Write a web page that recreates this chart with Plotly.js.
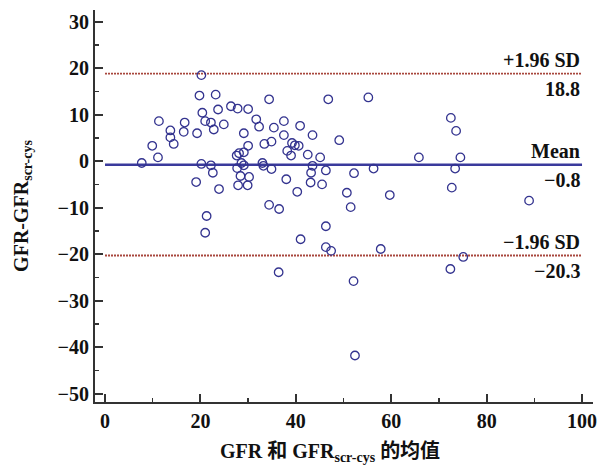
<!DOCTYPE html>
<html>
<head>
<meta charset="utf-8">
<script src="https://cdn.plot.ly/plotly-3.0.1.min.js"></script>
<style>html,body{margin:0;padding:0;background:#fff;}#chart{width:597px;height:469px;}</style>
</head>
<body>
<div id="chart"></div>
<script>
// Mean of the two GFR estimates (x) and their difference (y)
var meanGFR = [7.7, 9.9, 11.1, 11.3, 13.7, 13.7, 14.4, 16.7, 16.5, 19.3,
  19.8, 20.2, 20.4, 21.0, 22.2, 22.8, 23.2, 23.7, 24.9, 26.4,
  27.8, 30.0, 31.7, 32.3, 29.1, 30.0, 29.1, 28.1, 27.6, 33.4,
  34.9, 34.4, 35.4, 37.5, 40.9, 37.5, 43.5, 39.2, 39.8, 40.6,
  38.2, 39.0, 42.5, 45.1, 49.1, 46.8, 55.2, 20.2, 22.2, 22.6,
  28.6, 29.1, 27.7, 28.4, 30.2, 27.9, 29.9, 33.0, 33.2, 34.9,
  43.5, 43.2, 46.3, 52.2, 56.3, 19.1, 23.9, 21.3, 21.0, 38.0,
  43.1, 45.5, 40.3, 50.7, 59.7, 34.4, 36.5, 51.5, 46.3, 41.0,
  46.3, 47.4, 57.8, 36.4, 52.1, 52.4, 72.5, 73.6, 65.8, 74.5,
  73.4, 72.7, 88.9, 75.1, 72.4];
var diffGFR = [-0.4, 3.3, 0.8, 8.6, 6.6, 5.1, 3.7, 8.3, 6.3, 6.0,
  14.1, 18.5, 10.4, 8.6, 8.3, 6.8, 14.3, 11.1, 7.9, 11.8,
  11.3, 11.2, 9.0, 7.4, 6.0, 3.3, 1.9, 1.7, 1.2, 3.7,
  4.2, 13.3, 7.2, 8.6, 7.6, 5.6, 5.6, 3.9, 3.4, 3.3,
  2.2, 1.2, 1.4, 0.8, 4.5, 13.3, 13.7, -0.6, -0.9, -2.5,
  -0.4, -0.9, -1.5, -3.2, -3.4, -5.2, -5.2, -0.4, -1.0, -1.7,
  -1.0, -2.5, -2.0, -2.6, -1.6, -4.5, -6.0, -11.8, -15.4, -3.9,
  -4.6, -5.0, -6.6, -6.8, -7.3, -9.4, -10.3, -9.9, -14.0, -16.8,
  -18.5, -19.3, -18.9, -23.9, -25.8, -41.8, 9.3, 6.5, 0.8, 0.8,
  -1.6, -5.7, -8.5, -20.6, -23.2];

// Bland-Altman statistics
var upperLoA = 18.8;
var meanDiff = -0.8;
var lowerLoA = -20.3;
var lineSpan = [0, 100];
var upperLabel = "+1.96 SD";
var meanLabel = "Mean";
var lowerLabel = "\u22121.96 SD";
var xTitle = "GFR 和 GFR<sub>scr-cys</sub> 的均值";
var yTitle = "GFR-GFR<sub>scr-cys</sub>";

var xTicks = [0, 20, 40, 60, 80, 100];
var yTicks = [30, 20, 10, 0, -10, -20, -30, -40, -50];

function fmt(v) { return (v < 0 ? "\u2212" : "") + Math.abs(v).toFixed(1); }

var FONT = "'Liberation Serif', 'Noto Sans CJK SC', serif";
var axisColor = "#333333";
var markColor = "#33338f";
var redColor = "#a8473d";

var traces = [
  {x: lineSpan, y: [upperLoA, upperLoA], mode: "lines", hoverinfo: "skip",
   line: {color: redColor, width: 1.8, dash: "2px,1px"}},
  {x: lineSpan, y: [lowerLoA, lowerLoA], mode: "lines", hoverinfo: "skip",
   line: {color: redColor, width: 1.8, dash: "2px,1px"}},
  {x: lineSpan, y: [meanDiff, meanDiff], mode: "lines", hoverinfo: "skip",
   line: {color: "#3a3a9c", width: 2.5}},
  {x: meanGFR, y: diffGFR, mode: "markers", type: "scatter",
   marker: {symbol: "circle-open", size: 8.5, color: markColor, line: {width: 1.3, color: markColor}}}
];

var annFont = {family: FONT, size: 20, color: "#111", weight: "bold"};
function ann(text, y, above) {
  return {x: lineSpan[1], y: y, xref: "x", yref: "y", text: text, showarrow: false,
    xanchor: "right", yanchor: above ? "bottom" : "top", font: annFont,
    yshift: above ? 1 : -2};
}

var layout = {
  width: 597, height: 469,
  margin: {l: 95, r: 4, t: 10, b: 67},
  paper_bgcolor: "#fff", plot_bgcolor: "#fff",
  showlegend: false,
  font: {family: FONT, color: "#111"},
  xaxis: {
    range: [-2.1, 102.3], tickvals: xTicks, ticktext: xTicks.map(String),
    ticks: "inside", ticklen: 8, tickwidth: 2, tickcolor: axisColor,
    ticklabeloverflow: "allow",
    showline: true, linewidth: 2, linecolor: axisColor, showgrid: false, zeroline: false,
    minor: {dtick: 10, tick0: 0, ticks: "inside", ticklen: 4, tickwidth: 1.5, tickcolor: axisColor, showgrid: false},
    tickfont: {family: FONT, size: 20, color: "#111", weight: "bold"}
  },
  yaxis: {
    range: [-51.8, 32.5], tickvals: yTicks,
    ticks: "inside", ticklen: 8, tickwidth: 2, tickcolor: axisColor,
    ticklabeloverflow: "allow",
    showline: true, linewidth: 2, linecolor: axisColor, showgrid: false, zeroline: false,
    minor: {dtick: 5, tick0: 0, ticks: "inside", ticklen: 4, tickwidth: 1.5, tickcolor: axisColor, showgrid: false},
    tickfont: {family: FONT, size: 20, color: "#111", weight: "bold"},
    title: {text: yTitle, font: {family: FONT, size: 20, color: "#111", weight: "bold"}, standoff: 24}
  },
  annotations: [
    ann(upperLabel, upperLoA, true), ann(fmt(upperLoA), upperLoA, false),
    ann(meanLabel, meanDiff, true), ann(fmt(meanDiff), meanDiff, false),
    ann(lowerLabel, lowerLoA, true), ann(fmt(lowerLoA), lowerLoA, false),
    {xref: "paper", yref: "paper", x: 0.472, y: -0.128, xanchor: "center", yanchor: "middle",
     text: xTitle, showarrow: false, font: {family: FONT, size: 20, color: "#111", weight: "bold"}}
  ]
};

Plotly.newPlot("chart", traces, layout, {displayModeBar: false, staticPlot: true});
</script>
</body>
</html>
